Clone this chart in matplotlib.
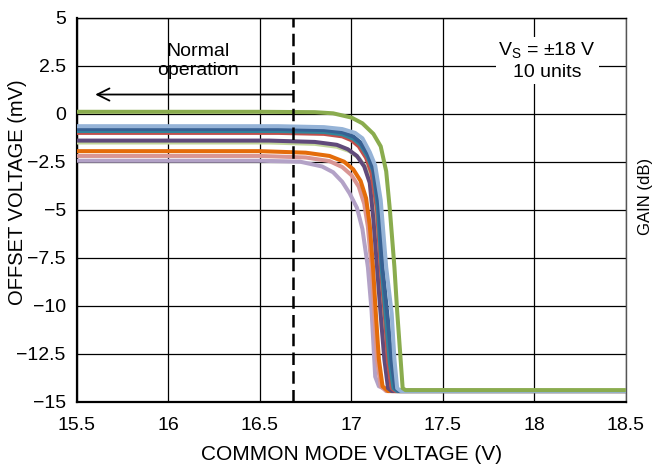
import matplotlib
matplotlib.use("Agg")
import matplotlib.pyplot as plt

plt.rcParams["font.family"] = ["Liberation Sans", "DejaVu Sans"]

# ten units, flat level then collapse to the floor
green_x = [15.5, 16.5, 16.8, 16.9, 17.0, 17.06, 17.12, 17.16, 17.19, 17.21, 17.235, 17.25, 17.28, 17.295, 18.5]
green_y = [0.1, 0.1, 0.08, 0.02, -0.2, -0.5, -1.05, -1.7, -3.0, -5.0, -8.0, -10.3, -14.3, -14.4, -14.4]

ltblue_x = [15.5, 16.6, 16.85, 16.95, 17.02, 17.06, 17.1, 17.13, 17.16, 17.19, 17.22, 17.235, 17.25, 17.27, 18.5]
ltblue_y = [-0.65, -0.65, -0.7, -0.8, -1.0, -1.28, -2.0, -2.7, -4.5, -8.0, -10.4, -12.8, -14.3, -14.45, -14.45]

blue_x = [15.5, 16.6, 16.85, 16.95, 17.01, 17.05, 17.09, 17.12, 17.15, 17.17, 17.2, 17.22, 17.24, 17.26, 18.5]
blue_y = [-0.8, -0.8, -0.85, -0.97, -1.18, -1.5, -2.1, -2.9, -4.8, -8.0, -10.8, -13.0, -14.3, -14.45, -14.45]

teal_x = [15.5, 16.6, 16.85, 16.95, 17.01, 17.05, 17.09, 17.12, 17.145, 17.165, 17.19, 17.21, 17.23, 17.25, 18.5]
teal_y = [-0.9, -0.9, -0.95, -1.07, -1.3, -1.62, -2.25, -3.0, -4.9, -8.0, -10.8, -13.0, -14.3, -14.45, -14.45]

red_x = [15.5, 16.6, 16.85, 16.95, 17.0, 17.04, 17.08, 17.11, 17.14, 17.16, 17.185, 17.2, 17.22, 17.24, 18.5]
red_y = [-1.0, -1.0, -1.05, -1.18, -1.38, -1.7, -2.3, -3.1, -5.0, -8.0, -10.8, -12.9, -14.3, -14.45, -14.45]

purple_x = [15.5, 16.55, 16.8, 16.92, 16.98, 17.03, 17.07, 17.1, 17.12, 17.14, 17.16, 17.18, 17.2, 17.22, 18.5]
purple_y = [-1.4, -1.4, -1.47, -1.62, -1.85, -2.2, -2.75, -3.6, -5.5, -8.0, -10.5, -12.8, -14.3, -14.45, -14.45]

olive_x = [15.5, 16.55, 16.8, 16.92, 16.99, 17.04, 17.08, 17.11, 17.13, 17.15, 17.17, 17.19, 17.21, 17.23, 18.5]
olive_y = [-1.5, -1.5, -1.57, -1.72, -1.95, -2.3, -2.85, -3.7, -5.5, -8.0, -10.5, -12.8, -14.3, -14.45, -14.45]

orange_x = [15.5, 16.5, 16.75, 16.88, 16.96, 17.01, 17.05, 17.08, 17.1, 17.118, 17.134, 17.15, 17.17, 17.2, 18.5]
orange_y = [-1.95, -1.95, -2.03, -2.2, -2.5, -2.9, -3.5, -4.4, -5.8, -8.0, -10.5, -12.8, -14.2, -14.45, -14.45]

pink_x = [15.5, 16.5, 16.75, 16.88, 16.95, 17.0, 17.04, 17.07, 17.09, 17.11, 17.125, 17.14, 17.16, 17.19, 18.5]
pink_y = [-2.2, -2.2, -2.28, -2.47, -2.78, -3.2, -3.8, -4.7, -5.9, -8.0, -10.4, -12.8, -14.2, -14.45, -14.45]

lav_x = [15.5, 16.5, 16.72, 16.84, 16.9, 16.95, 16.99, 17.03, 17.06, 17.09, 17.11, 17.13, 17.15, 17.2, 18.5]
lav_y = [-2.45, -2.45, -2.5, -2.75, -3.05, -3.55, -4.15, -4.9, -6.0, -8.0, -10.25, -13.7, -14.2, -14.4, -14.45]

xticks = [15.5, 16, 16.5, 17, 17.5, 18, 18.5]
xtick_labels = ["15.5", "16", "16.5", "17", "17.5", "18", "18.5"]
yticks = [5, 2.5, 0, -2.5, -5, -7.5, -10, -12.5, -15]
ytick_labels = ["5", "2.5", "0", "\u22122.5", "\u22125", "\u22127.5", "\u221210", "\u221212.5", "\u221215"]

boundary = 16.68

curves = [
    (lav_x, lav_y, "#B3A2C7"),
    (pink_x, pink_y, "#D99694"),
    (orange_x, orange_y, "#E46C0A"),
    (olive_x, olive_y, "#C3D69B"),
    (purple_x, purple_y, "#604A7B"),
    (red_x, red_y, "#C0504D"),
    (teal_x, teal_y, "#31859C"),
    (blue_x, blue_y, "#376092"),
    (ltblue_x, ltblue_y, "#95B3D7"),
    (green_x, green_y, "#8AAC4E"),
]

fig = plt.figure(figsize=(6.52, 4.67), dpi=100)
ax = fig.add_axes([0.118, 0.140, 0.842, 0.822])

for x, y, c in curves:
    ax.plot(x, y, color=c, lw=2.9, solid_joinstyle="round", solid_capstyle="butt", zorder=3)

ax.set_xlim(15.5, 18.5)
ax.set_ylim(-15, 5)
ax.set_xticks(xticks)
ax.set_xticklabels(xtick_labels)
ax.set_yticks(yticks)
ax.set_yticklabels(ytick_labels)
ax.tick_params(length=0, labelsize=14)
ax.tick_params(axis="x", pad=11)
ax.tick_params(axis="y", pad=8)
ax.grid(True, color="black", lw=0.9)
ax.set_axisbelow(True)
for side in ["left", "bottom"]:
    ax.spines[side].set_linewidth(1.6)
for side in ["top", "right"]:
    ax.spines[side].set_linewidth(1.0)
ax.spines["right"].set_color("#555555")

ax.set_xlabel("COMMON MODE VOLTAGE (V)", fontsize=15, labelpad=8)
fig.text(18 / 652, 1 - 192 / 467, "OFFSET VOLTAGE (mV)", rotation=90,
         ha="center", va="center", fontsize=14.5)

ax.axvline(boundary, color="black", lw=1.8, ls=(0, (5, 2.5)), zorder=4)
ax.annotate("", xy=(15.6, 1.0), xytext=(boundary, 1.0),
            arrowprops=dict(arrowstyle="->", color="black", lw=1.3,
                            mutation_scale=22, shrinkA=0, shrinkB=0), zorder=4)
ax.text(16.16, 2.75, "Normal\noperation", ha="center", va="center", fontsize=14,
        linespacing=1.2, zorder=5)
ax.text(18.07, 2.75, "V$_\\mathregular{S}$ = \u00b118 V\n10 units", ha="center", va="center",
        fontsize=14, linespacing=1.25, zorder=5,
        bbox=dict(facecolor="white", edgecolor="none", pad=2))

fig.text(0.99, 0.58, "GAIN (dB)", rotation=90, ha="center", va="center", fontsize=12)

fig.savefig("out.png", dpi=100)
